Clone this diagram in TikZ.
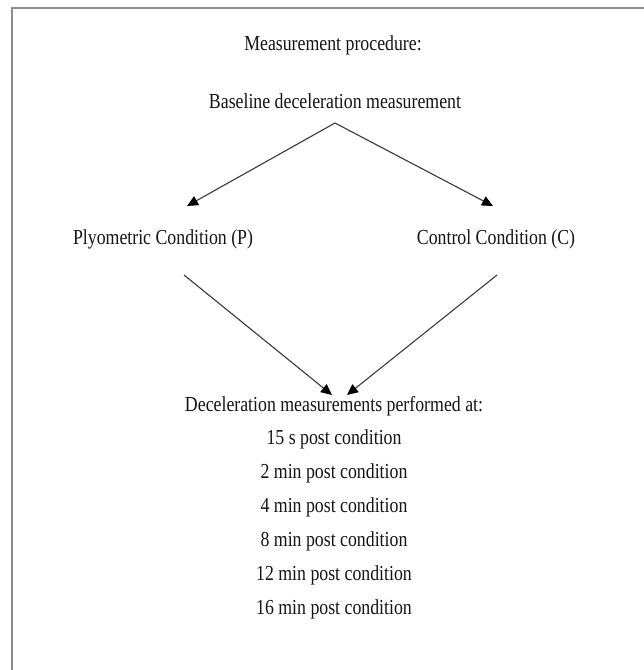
\documentclass[tikz,border=0pt]{standalone}
\usepackage{fontspec}
\setmainfont{Liberation Serif}
\usepackage{graphicx}
\usetikzlibrary{arrows.meta}
\newcommand{\tx}[1]{\scalebox{1}[1.2]{#1}}
\begin{document}
\begin{tikzpicture}[x=1pt,y=-1pt,
  lbl/.style={anchor=base,inner sep=0pt,text=black!92,font=\fontsize{17.8}{20}\selectfont},
  arr/.style={draw=black!78,line width=1.1pt,-{Triangle[length=11pt,width=10pt,color=black]}},
  frame/.style={draw=black!45,line width=2pt}]
\useasboundingbox (0,0) rectangle (644,670);
\draw[frame] (11.5,670) -- (11.5,7.5) -- (644,7.5);
\node[lbl] (title) at (333,50) {\tx{Measurement procedure:}};
\node[lbl] (base) at (335,108) {\tx{Baseline deceleration measurement}};
\node[lbl] (plyo) at (163,244) {\tx{Plyometric Condition (P)}};
\node[lbl] (ctrl) at (496,244) {\tx{Control Condition (C)}};
\node[lbl] (decel) at (334,411) {\tx{Deceleration measurements performed at:}};
\node[lbl] (t1) at (334,444) {\tx{15 s post condition}};
\node[lbl] (t2) at (334,478) {\tx{2 min post condition}};
\node[lbl] (t3) at (334,512) {\tx{4 min post condition}};
\node[lbl] (t4) at (334,546) {\tx{8 min post condition}};
\node[lbl] (t5) at (334,580) {\tx{12 min post condition}};
\node[lbl] (t6) at (334,614) {\tx{16 min post condition}};
\coordinate (apex) at (335,123);
\coordinate (plyoIn) at (187,206);
\coordinate (ctrlIn) at (493,206);
\coordinate (plyoOut) at (184,275);
\coordinate (ctrlOut) at (497,275);
\coordinate (decelInL) at (332,395);
\coordinate (decelInR) at (347,395);
\draw[arr] (apex) -- (plyoIn);
\draw[arr] (apex) -- (ctrlIn);
\draw[arr] (plyoOut) -- (decelInL);
\draw[arr] (ctrlOut) -- (decelInR);
\end{tikzpicture}
\end{document}
